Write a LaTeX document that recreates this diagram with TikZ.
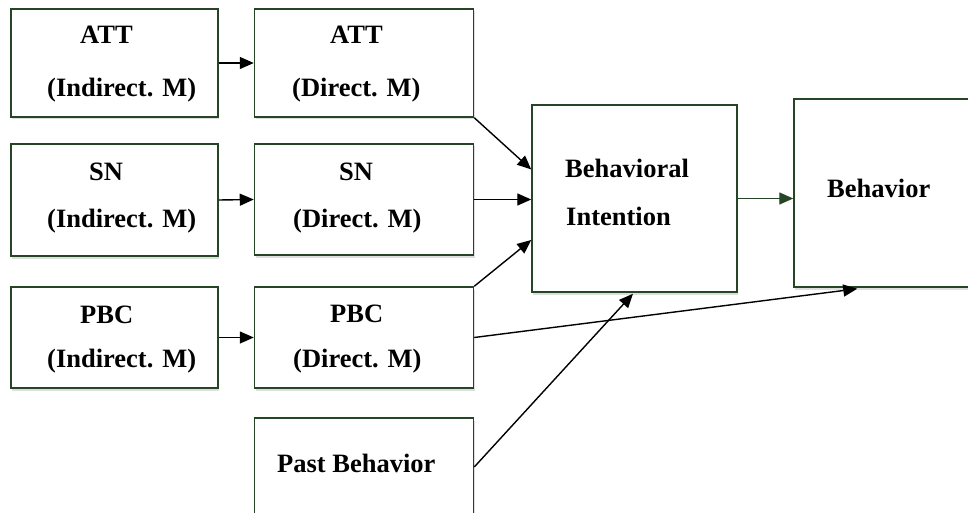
\documentclass[tikz,border=0pt]{standalone}
\usepackage{fontspec}
\setmainfont{Liberation Serif}
\usetikzlibrary{calc,arrows.meta,shadows}
\definecolor{boxgreen}{RGB}{38,68,38}
\begin{document}
\begin{tikzpicture}[x=1pt,y=-1pt,
  box/.style={draw=boxgreen,line width=1.5pt,fill=white,rectangle,inner sep=0pt,
    drop shadow={shadow xshift=1pt,shadow yshift=-2.5pt,fill=black!25,opacity=0.5}},
  lbl/.style={anchor=base west,inner sep=0pt,font=\fontsize{26.5}{30}\selectfont\bfseries},
  conn/.style={line width=1.4pt,-{Triangle[length=14pt,width=12pt]}}]
\useasboundingbox (0,0) rectangle (968,513);
\fill[white] (0,0) rectangle (968,513);
\begin{scope}
\clip (0,0) rectangle (968,513);
\node[box,minimum width=207pt,minimum height=108pt] (ai) at (114.5,63) {};
\node[box,minimum width=219pt,minimum height=108pt] (ad) at (364,63) {};
\node[box,minimum width=207pt,minimum height=112pt] (si) at (114.5,200) {};
\node[box,minimum width=219pt,minimum height=111pt] (sd) at (364,199.5) {};
\node[box,minimum width=207pt,minimum height=101pt] (pi) at (114.5,337.5) {};
\node[box,minimum width=219pt,minimum height=101pt] (pd) at (364,337.5) {};
\node[box,minimum width=219pt,minimum height=98pt] (pb) at (364,467) {};
\node[box,minimum width=205pt,minimum height=187pt] (bi) at (634.5,198.5) {};
\node[box,minimum width=200pt,minimum height=188pt] (beh) at (894,193) {};
\end{scope}
% labels
\node[lbl] (t1) at (80,44) {ATT};
\node[lbl] (t2) at (47,97) {(Indirect. M)};
\node[lbl] (t3) at (330,44) {ATT};
\node[lbl] (t4) at (292,97) {(Direct. M)};
\node[lbl] (t5) at (89,181) {SN};
\node[lbl] (t6) at (47,227) {(Indirect. M)};
\node[lbl] (t7) at (339,180) {SN};
\node[lbl] (t8) at (293,227) {(Direct. M)};
\node[lbl] (t9) at (80,323) {PBC};
\node[lbl] (t10) at (47,367) {(Indirect. M)};
\node[lbl] (t11) at (330,322) {PBC};
\node[lbl] (t12) at (293,367) {(Direct. M)};
\node[lbl] (t13) at (277,472) {Past Behavior};
\node[lbl] (t14) at (565,178) {Behavioral};
\node[lbl] (t15) at (566,225) {Intention};
\node[lbl] (t16) at (827,197) {Behavior};
% connectors
\draw[conn] (ai.east) -- (ad.west);
\draw[conn] (si.east) -- (sd.west);
\draw[conn] (pi.east) -- (pd.west);
\draw[conn] (ad.south east) -- ($(bi.west)+(0,-29)$);
\draw[conn] (sd.east) -- (sd.east -| bi.west);
\draw[conn] (pd.north east) -- ($(bi.west)+(0,41.5)$);
\draw[conn,draw=boxgreen,fill=boxgreen] (bi.east) -- (bi.east -| beh.west);
\draw[conn] (pd.east) -- ($(beh.south west)+(64,1)$);
\draw[conn] (pb.east) -- ($(bi.south)+(-1.5,1)$);
\end{tikzpicture}
\end{document}
